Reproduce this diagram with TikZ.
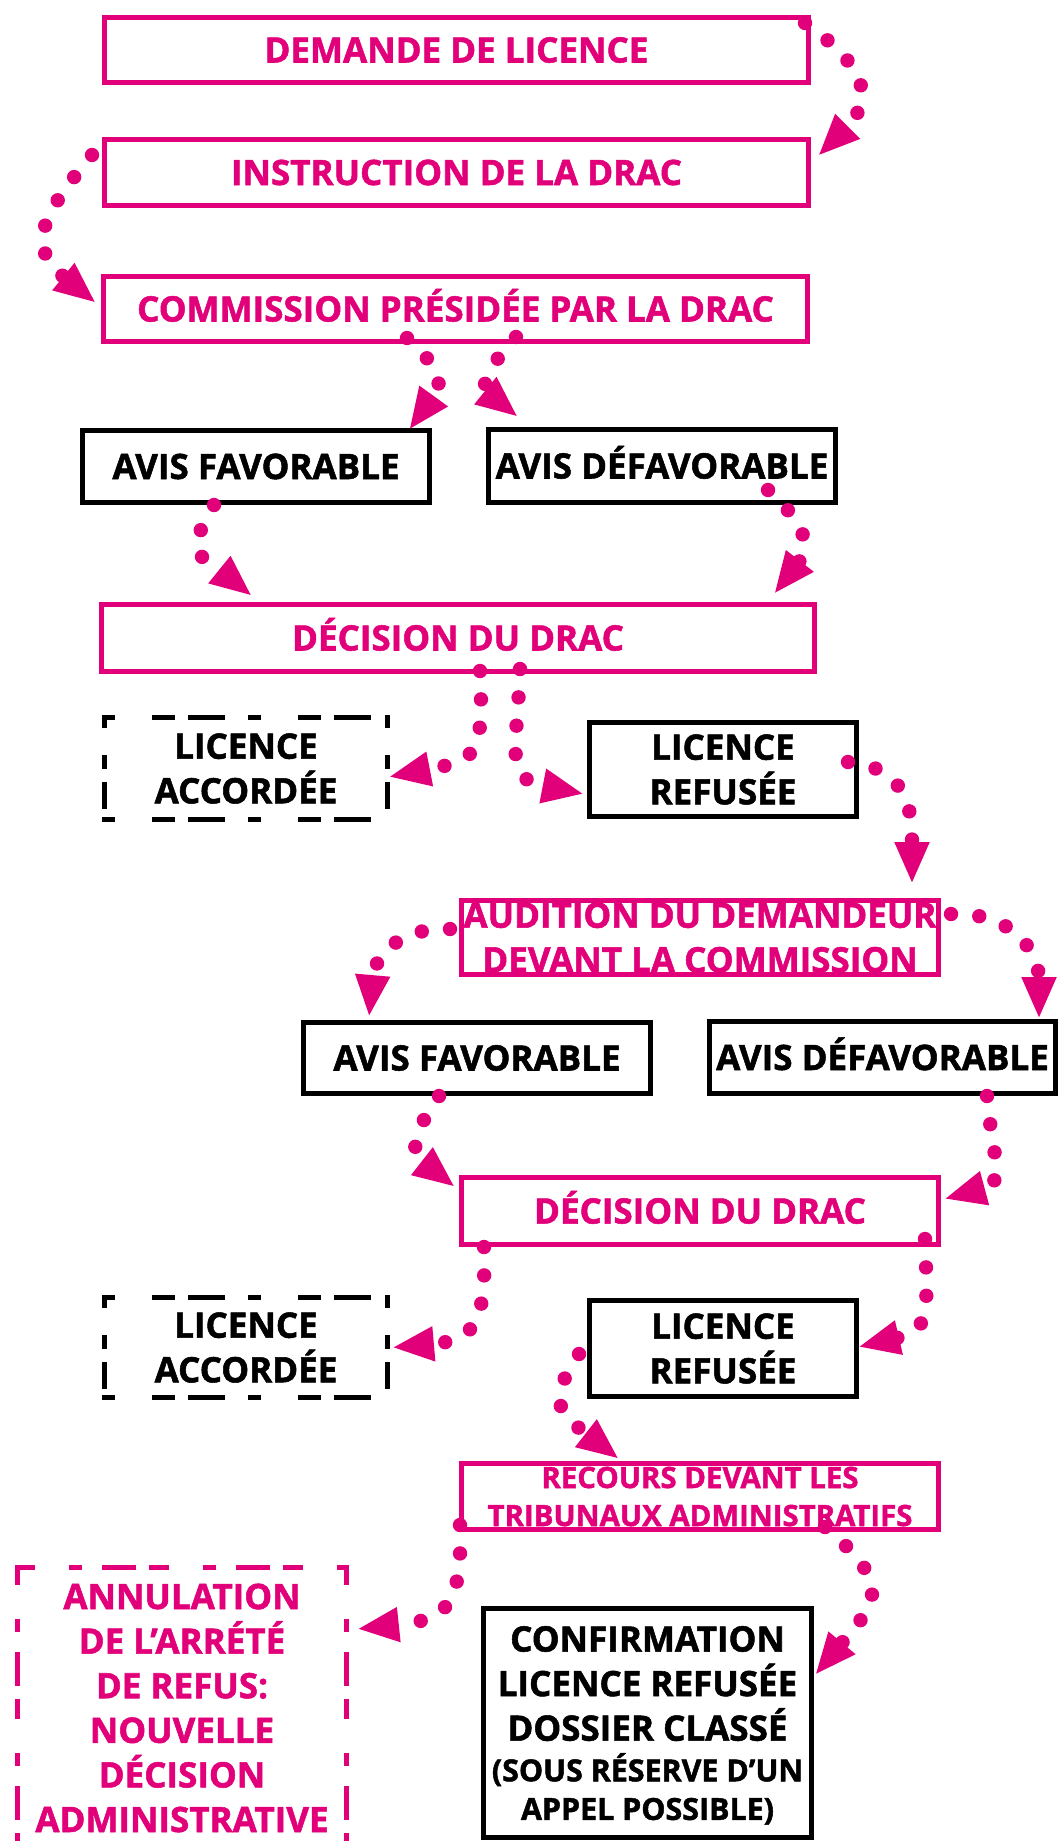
\documentclass[tikz,border=0pt]{standalone}
\usepackage{fontspec}
\setmainfont{Open Sans}[BoldFeatures={FakeBold=1.5}]
\usetikzlibrary{arrows.meta}
\definecolor{mag}{HTML}{E2007A}

\begin{document}
\begin{tikzpicture}[x=0.5pt, y=0.5pt,
    box/.style ={rectangle, line width=2.5pt, inner sep=0pt, align=center,
      font=\bfseries\fontsize{17.5}{22.3}\selectfont},
    oneline/.style ={text height=12.5pt, text depth=0pt},
    pinkbox/.style ={box, draw=mag, text=mag},
    blackbox/.style ={box, draw=black, text=black},
    dashedge/.style ={line width=2.5pt, shorten <=-1.25pt, shorten >=-1.25pt},
    dashframe/.style n args={3}{box, text=#1, outer sep=0pt,
      append after command={
        (\tikzlastnode.north west) edge[dashedge, draw=#1, dash pattern=#2] (\tikzlastnode.north east)
        (\tikzlastnode.south west) edge[dashedge, draw=#1, dash pattern=#2] (\tikzlastnode.south east)
        (\tikzlastnode.north west) edge[dashedge, draw=#1, dash pattern=#3] (\tikzlastnode.south west)
        (\tikzlastnode.north east) edge[dashedge, draw=#1, dash pattern=#3] (\tikzlastnode.south east)}},
    flow/.style ={draw=mag, line width=7.2pt, line cap=round,
      dash pattern=on 0pt off 14.2pt, -{Triangle[length=21pt, width=16pt]}}]
   \useasboundingbox (0,0) rectangle (1060,-1841);
   % first round
   \node[pinkbox, oneline, minimum width=352pt, minimum height=32.5pt] (dem) at (456.5,-50) {DEMANDE DE LICENCE};
   \node[pinkbox, oneline, minimum width=352pt, minimum height=33pt] (ins) at (456.5,-172.5) {INSTRUCTION DE LA DRAC};
   \node[pinkbox, oneline, minimum width=352pt, minimum height=32.5pt] (com) at (455.5,-309) {COMMISSION PRÉSIDÉE PAR LA DRAC};
   \node[blackbox, oneline, minimum width=173.5pt, minimum height=36pt] (fav1) at (256,-466.5) {AVIS FAVORABLE};
   \node[blackbox, oneline, minimum width=173.5pt, minimum height=36.5pt] (def1) at (662,-466) {AVIS DÉFAVORABLE};
   \node[pinkbox, oneline, minimum width=356.5pt, minimum height=33.5pt] (dec1) at (458,-638) {DÉCISION DU DRAC};
   \node[dashframe={black}{on 6.5pt off 18.5pt on 11.5pt}{on 6.5pt off 13.5pt on 7pt},
         minimum width=141.5pt, minimum height=51pt] (acc1) at (246,-768.5) {LICENCE\\ACCORDÉE};
   \node[blackbox, minimum width=133.5pt, minimum height=47pt] (ref1) at (723,-769.5) {LICENCE\\REFUSÉE};
   % second round
   \node[pinkbox, minimum width=238.5pt, minimum height=37pt] (aud) at (700,-937.5) {AUDITION DU DEMANDEUR\\DEVANT LA COMMISSION};
   \node[blackbox, oneline, minimum width=173.5pt, minimum height=35.5pt] (fav2) at (477,-1058) {AVIS FAVORABLE};
   \node[blackbox, oneline, minimum width=173pt, minimum height=36pt] (def2) at (882.5,-1057.5) {AVIS DÉFAVORABLE};
   \node[pinkbox, oneline, minimum width=238.5pt, minimum height=33.5pt] (dec2) at (700,-1211) {DÉCISION DU DRAC};
   \node[dashframe={black}{on 6.5pt off 18.5pt on 11.5pt}{on 6.5pt off 13.5pt on 7pt},
         minimum width=141.5pt, minimum height=50pt] (acc2) at (246,-1347.5) {LICENCE\\ACCORDÉE};
   \node[blackbox, minimum width=133.5pt, minimum height=48pt] (ref2) at (723,-1348.5) {LICENCE\\REFUSÉE};
   % appeal
   \node[pinkbox, minimum width=238.5pt, minimum height=33pt, font=\bfseries\fontsize{14.7}{19}\selectfont]
        (rec) at (700,-1496.5) {RECOURS DEVANT LES\\TRIBUNAUX ADMINISTRATIFS};
   \node[dashframe={mag}{on 10pt off 16.75pt on 6.75pt}{on 10pt off 16.75pt on 6.75pt},
         minimum width=164.5pt, minimum height=140.5pt] (ann) at (182,-1708)
        {ANNULATION\\DE L’ARRÉTÉ\\DE REFUS:\\NOUVELLE\\DÉCISION\\ADMINISTRATIVE};
   \node[blackbox, minimum width=164pt, minimum height=114.5pt, text depth=-2.5pt] (conf) at (647.5,-1723)
        {CONFIRMATION\\LICENCE REFUSÉE\\DOSSIER CLASSÉ\\[-2pt]{\fontsize{15.2}{18}\selectfont (SOUS RÉSERVE D’UN}\\[-3pt]{\fontsize{15.2}{18}\selectfont APPEL POSSIBLE)}};
   % dotted arrows
   \draw[flow] ([shift={(-6,-8)}]dem.north east) to[out=-35, in=45, looseness=1.5] ([shift={(7,-19)}]ins.north east);
   \draw[flow] ([shift={(-10,-18)}]ins.north west) to[out=230, in=141, looseness=1.5] ([shift={(-5,-29)}]com.north west);
   \draw[flow] ([shift={(-48.5,6)}]com.south) to[out=-42, in=54, looseness=1.5] ([shift={(-23,-2)}]fav1.north east);
   \draw[flow] ([shift={(60.5,7)}]com.south) to[out=227, in=141, looseness=1.5] ([shift={(32,10)}]def1.north west);
   \draw[flow] ([shift={(-42,0)}]fav1.south) to[out=238, in=141, looseness=1.6] ([shift={(-206,6)}]dec1.north);
   \draw[flow] ([shift={(106,15)}]def1.south) to[out=-42, in=52, looseness=1.4] ([shift={(-43,8)}]dec1.north east);
   \draw[flow] ([shift={(22,3)}]dec1.south) to[out=-87, in=11, looseness=1.6] ([shift={(1,-8.5)}]acc1.east);
   \draw[flow] ([shift={(62,5)}]dec1.south) to[out=-92, in=169, looseness=1.5] ([shift={(-3,-24.5)}]ref1.west);
   \draw[flow] ([shift={(-11,7.5)}]ref1.east) to[out=-5, in=90, looseness=1.2] ([shift={(-29,14)}]aud.north east);
   \draw[flow] ([shift={(-9,8.5)}]aud.west) to[out=178, in=85, looseness=1.2] ([shift={(-108,3)}]fav2.north);
   \draw[flow] ([shift={(10,-16)}]aud.north east) to[out=2, in=90, looseness=1.2] ([shift={(-19,0)}]def2.north east);
   \draw[flow] ([shift={(-38,0)}]fav2.south) to[out=235, in=142, looseness=1.5] ([shift={(-4,-12)}]dec2.north west);
   \draw[flow] ([shift={(104.5,0)}]def2.south) to[out=-85, in=15, looseness=1.5] ([shift={(3,12)}]dec2.east);
   \draw[flow] ([shift={(25,0)}]dec2.south west) to[out=-88, in=5, looseness=1.5] ([shift={(4.5,0)}]acc2.east);
   \draw[flow] ([shift={(-16,8)}]dec2.south east) to[out=-88, in=13, looseness=1.5] ([shift={(-1,1.5)}]ref2.east);
   \draw[flow] ([shift={(-8,-5.5)}]ref2.west) to[out=235, in=142, looseness=1.5] ([shift={(-81,2)}]rec.north);
   \draw[flow] ([shift={(1,7)}]rec.south west) to[out=-88, in=6, looseness=1.5] ([shift={(10.5,-61.5)}]ann.north east);
   \draw[flow] ([shift={(125,5)}]rec.south) to[out=-40, in=50, looseness=1.6] ([shift={(1,-69)}]conf.north east);
\end{tikzpicture}
\end{document}
